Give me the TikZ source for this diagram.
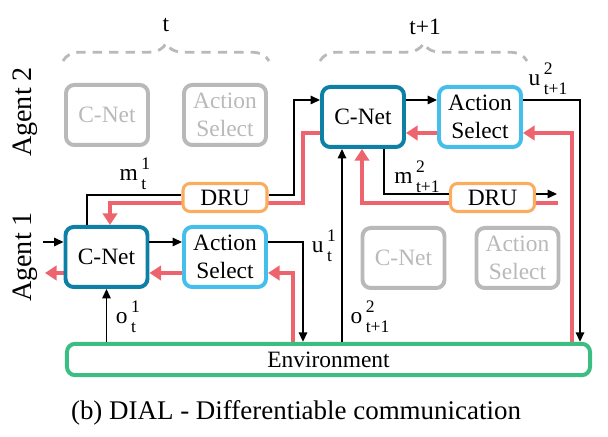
\documentclass[tikz,border=0pt]{standalone}
\usepackage{fontspec}
\setmainfont{Liberation Serif}
\usetikzlibrary{arrows.meta,decorations.pathreplacing,backgrounds}

\definecolor{tealc}{RGB}{15,128,165}
\definecolor{bluec}{RGB}{70,190,235}
\definecolor{orangec}{RGB}{250,172,95}
\definecolor{greenc}{RGB}{60,190,130}
\definecolor{redc}{RGB}{238,100,110}
\definecolor{greyc}{RGB}{185,185,185}

% letter with stacked index (sub) and agent (sup)
\newcommand{\sig}[3]{#1\kern1.5pt\rlap{\raisebox{4.5pt}{\fontsize{7.5}{9}\selectfont #3}}\raisebox{-3.8pt}{\fontsize{7.5}{9}\selectfont #2}}

\begin{document}
\begin{tikzpicture}[x=0.015cm,y=0.015cm,font=\fontsize{10}{12}\selectfont,
    box/.style={rounded corners=3.5pt,line width=1.7pt,minimum width=1.23cm,minimum height=0.9cm,inner sep=1pt,align=center},
    cnet/.style={box,draw=tealc},
    actsel/.style={box,draw=bluec},
    idle/.style={box,draw=greyc,text=greyc},
    dru/.style={rounded corners=3pt,line width=1.3pt,draw=orangec,fill=white,minimum width=1.26cm,minimum height=0.42cm,inner sep=1pt},
    envbox/.style={rounded corners=3.5pt,line width=1.7pt,draw=greenc,minimum width=7.845cm,minimum height=0.465cm},
    agent/.style={rotate=90,font=\fontsize{12}{14}\selectfont},
    msg/.style={line width=0.6pt},
    msgarrow/.style={msg,-{Triangle[length=4pt,width=3.6pt]}},
    grad/.style={redc,line width=2.1pt,-{Triangle[length=5pt,width=6.2pt]}},
    span/.style={greyc,line width=1.2pt,dash pattern=on 4pt off 3pt,decorate,decoration={brace,amplitude=7.5pt}}]
    \useasboundingbox (0,0) rectangle (608,437);

    % time steps
    \draw[span] (63,376) -- (269,376);
    \draw[span] (320,376) -- (527,376);
    \node (tA) at (166,412) {t};
    \node (tB) at (425,410) {t+1};
    \node[agent] (agent2) at (25,325) {Agent 2};
    \node[agent] (agent1) at (25,180) {Agent 1};

    % boxes
    \node[idle] (cnetA) at (107,322) {C-Net};
    \node[idle] (actA) at (225,322) {Action\\Select};
    \node[cnet] (cnet2) at (363,320) {C-Net};
    \node[actsel] (act2) at (480,320) {Action\\Select};
    \node[cnet] (cnet1) at (106.5,180) {C-Net};
    \node[actsel] (act1) at (225,180) {Action\\Select};
    \node[idle] (cnetB) at (403.5,179) {C-Net};
    \node[idle] (actB) at (517.5,179) {Action\\Select};
    \node[dru] (dru1) at (225,239.5) {DRU};
    \node[dru] (dru2) at (492.5,239.5) {DRU};
    \node[envbox] (env) at (328.5,77.5) {Environment};

    % messages and actions
    \coordinate (in1) at (43,195);
    \draw[msgarrow] (in1) -- (in1 -| cnet1.west);
    \draw[msgarrow] (cnet1.east |- in1) -- (act1.west |- in1);
    \coordinate (u1) at (303,195);
    \draw[msgarrow] (act1.east |- in1) -- (u1) -- (u1 |- env.north);
    \draw[msgarrow] (cnet1.south |- env.north) -- (cnet1.south);
    \coordinate (m1) at (87,242);
    \draw[msg] (m1 |- cnet1.north) -- (m1) -- (dru1.west |- m1);
    \coordinate (m1up) at (294,337);
    \draw[msgarrow] (dru1.east |- m1) -| (m1up) -- (m1up -| cnet2.west);
    \draw[msgarrow] (cnet2.east |- m1up) -- (act2.west |- m1up);
    \coordinate (u2) at (580,337);
    \draw[msgarrow] (act2.east |- u2) -- (u2) -- (u2 |- env.north);
    \coordinate (o2) at (342,0);
    \draw[msgarrow] (o2 |- env.north) -- (o2 |- cnet2.south);
    \coordinate (m2) at (384,243);
    \draw[msg] (m2 |- cnet2.south) -- (m2) -- (dru2.west |- m2);
    \coordinate (m2end) at (557,243);
    \draw[msgarrow] (dru2.east |- m2) -- (m2end);

    % gradients
    \begin{scope}[on background layer]
        \coordinate (gA) at (303,304);
        \coordinate (gB) at (110,234);
        \draw[grad] (cnet2.west |- gA) -- (gA) |- (gB) -- (gB |- cnet1.north);
        \draw[grad] (act2.west |- gA) -- (cnet2.east |- gA);
        \coordinate (gC) at (572,304);
        \draw[grad] (gC |- env.north) -- (gC) -- (act2.east |- gC);
        \coordinate (gD) at (558,234);
        \coordinate (gE) at (362,234);
        \draw[grad] (gD) -- (gE) -- (gE |- cnet2.south);
        \coordinate (gF) at (293,164);
        \draw[grad] (gF |- env.north) -- (gF) -- (act1.east |- gF);
        \draw[grad] (act1.west |- gF) -- (cnet1.east |- gF);
        \coordinate (gG) at (45,164);
        \draw[grad] (cnet1.west |- gG) -- (gG);
    \end{scope}

    % labels
    \node (lm1) at (133,263) {\sig{m}{t}{1}};
    \node (lm2) at (417,260) {\sig{m}{t+1}{2}};
    \node (lu2) at (548,358) {\sig{u}{t+1}{2}};
    \node (lu1) at (322,191) {\sig{u}{t}{1}};
    \node (lo1) at (126,120) {\sig{o}{t}{1}};
    \node (lo2) at (370,120) {\sig{o}{t+1}{2}};
    \node[font=\fontsize{11.5}{13}\selectfont] (caption) at (296,24) {(b) DIAL - Differentiable communication};
\end{tikzpicture}
\end{document}
